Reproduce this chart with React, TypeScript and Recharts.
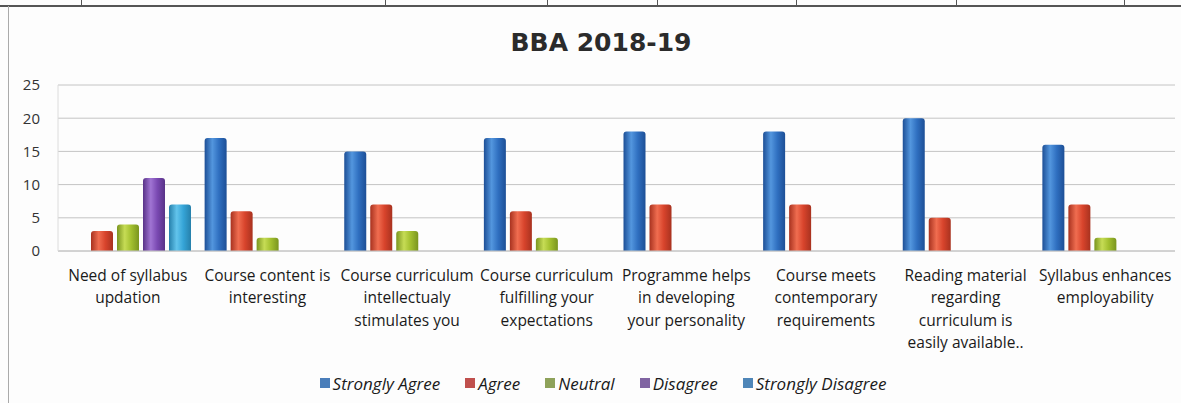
import { BarChart, Bar, XAxis, YAxis, CartesianGrid, Legend } from 'recharts'

const categories = [
  'Need of syllabus\nupdation',
  'Course content is\ninteresting',
  'Course curriculum\nintellectualy\nstimulates you',
  'Course curriculum\nfulfilling your\nexpectations',
  'Programme helps\nin developing\nyour personality',
  'Course meets\ncontemporary\nrequirements',
  'Reading material\nregarding\ncurriculum is\neasily available..',
  'Syllabus enhances\nemployability',
]

const stronglyAgree = [0, 17, 15, 17, 18, 18, 20, 16]
const agree = [3, 6, 7, 6, 7, 7, 5, 7]
const neutral = [4, 2, 3, 2, 0, 0, 0, 2]
const disagree = [11, 0, 0, 0, 0, 0, 0, 0]
const stronglyDisagree = [7, 0, 0, 0, 0, 0, 0, 0]

const yTicks = [0, 5, 10, 15, 20, 25]

const series = [
  { key: 'sa', name: 'Strongly Agree', values: stronglyAgree, base: '#2f6fc0', light: '#5396de', dark: '#1d4f96', legend: '#4a7eba' },
  { key: 'a', name: 'Agree', values: agree, base: '#d8442c', light: '#f06d50', dark: '#a8321f', legend: '#c0504d' },
  { key: 'n', name: 'Neutral', values: neutral, base: '#a2bf2e', light: '#c6dc55', dark: '#7a951f', legend: '#8ea25a' },
  { key: 'd', name: 'Disagree', values: disagree, base: '#7a49b2', light: '#a074d3', dark: '#583287', legend: '#8064a2' },
  { key: 'sd', name: 'Strongly Disagree', values: stronglyDisagree, base: '#35a4d7', light: '#62c4ec', dark: '#2680ab', legend: '#4f86b8' },
]

const data = categories.map((name, i) => {
  const row: Record<string, string | number> = { name }
  series.forEach(s => {
    row[s.key] = s.values[i]
  })
  return row
})

const labelFont = '"Open Sans", "Liberation Sans", sans-serif'

// eslint-disable-next-line @typescript-eslint/no-explicit-any
function CategoryTick({ x, y, payload }: any) {
  const lines = String(payload.value).split('\n')
  return (
    <text x={x} y={y} textAnchor="middle" fill="#1a1a1a" fontSize={15.5} fontFamily={labelFont}>
      {lines.map((line, i) => (
        <tspan key={i} x={x} dy={i === 0 ? 29.5 : 22.6}>
          {line}
        </tspan>
      ))}
    </text>
  )
}

function LegendContent() {
  return (
    <div
      style={{
        height: 24,
        display: 'flex',
        alignItems: 'center',
        justifyContent: 'center',
        paddingLeft: 48,
        fontFamily: labelFont,
        fontStyle: 'italic',
        fontSize: 17,
        color: '#1a1a1a',
      }}
    >
      {series.map(s => (
        <div key={s.key} style={{ display: 'flex', alignItems: 'center', marginRight: 25 }}>
          <span style={{ width: 10, height: 10, background: s.legend, marginRight: 3, display: 'inline-block' }} />
          <span>{s.name}</span>
        </div>
      ))}
    </div>
  )
}

const tableLines = [81, 385, 547, 657, 796, 956, 1124]

export default function App() {
  return (
    <div
      style={{
        position: 'fixed',
        left: 0,
        top: 0,
        width: 1181,
        height: 403,
        background: '#fdfdfd',
        overflow: 'hidden',
      }}
    >
      {/* table row border above the chart */}
      <div style={{ position: 'absolute', left: 0, top: 5, width: 1181, height: 2, background: '#555' }} />
      {tableLines.map(x => (
        <div key={x} style={{ position: 'absolute', left: x, top: 0, width: 1, height: 6, background: '#555' }} />
      ))}
      <div style={{ position: 'absolute', left: 8, top: 6, width: 1, height: 397, background: '#aaa' }} />

      <div
        style={{
          position: 'absolute',
          left: 0,
          top: 30,
          width: 1202,
          textAlign: 'center',
          fontFamily: '"DejaVu Sans", sans-serif',
          fontWeight: 'bold',
          fontSize: 25,
          lineHeight: '25px',
          color: '#2b2b2b',
        }}
      >
        BBA 2018-19
      </div>

      <div style={{ position: 'absolute', left: 0, top: 0 }}>
        <BarChart
          width={1181}
          height={403}
          data={data}
          margin={{ top: 85, right: 6, bottom: 8, left: 8 }}
          barCategoryGap={7}
          barGap={4}
        >
          <defs>
            {series.map(s => (
              <linearGradient key={s.key} id={`grad-${s.key}`} x1="0" y1="0" x2="1" y2="0">
                <stop offset="0%" stopColor={s.dark} />
                <stop offset="35%" stopColor={s.light} />
                <stop offset="65%" stopColor={s.base} />
                <stop offset="100%" stopColor={s.dark} />
              </linearGradient>
            ))}
          </defs>
          <CartesianGrid vertical={false} stroke="#c4c4c4" />
          <XAxis
            dataKey="name"
            height={120}
            interval={0}
            tickLine={false}
            tickSize={0}
            tickMargin={0}
            axisLine={{ stroke: '#c4c4c4' }}
            tick={<CategoryTick />}
          />
          <YAxis
            width={50}
            domain={[0, 25]}
            ticks={yTicks}
            tickLine={false}
            tickSize={0}
            tickMargin={18}
            axisLine={{ stroke: '#dcdcdc' }}
            tick={{ fill: '#333', fontSize: 15, fontFamily: labelFont }}
          />
          <Legend verticalAlign="bottom" content={<LegendContent />} />
          {series.map(s => (
            <Bar
              key={s.key}
              dataKey={s.key}
              name={s.name}
              fill={`url(#grad-${s.key})`}
              radius={[3, 3, 0, 0]}
              isAnimationActive={false}
            />
          ))}
        </BarChart>
      </div>
    </div>
  )
}
